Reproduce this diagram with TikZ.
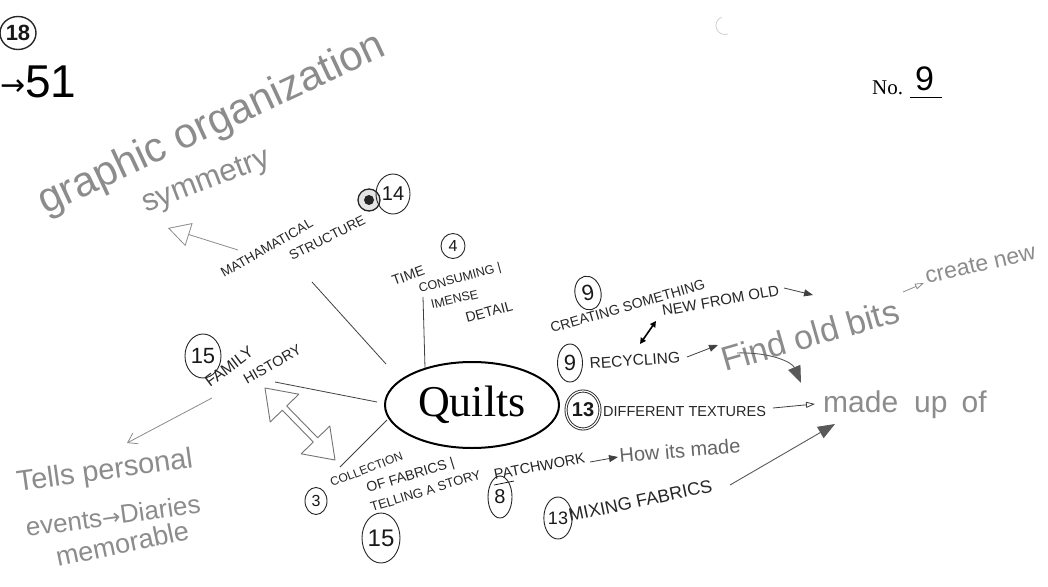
\documentclass[tikz,border=0pt]{standalone}
\usepackage{fontspec}
\setmainfont{Liberation Serif}
\newfontfamily\capsf{Liberation Sans}
\newfontfamily\hand{Liberation Sans}
\newfontfamily\sym{DejaVu Sans}
\usetikzlibrary{arrows.meta,shapes.geometric}
\begin{document}
\begin{tikzpicture}[x=1pt,y=-1pt,
  capf/.style={font=\capsf\fontsize{#1}{#1}\selectfont, inner sep=0pt, anchor=base west, text=black!85},
  handf/.style={font=\hand\fontsize{#1}{#1}\selectfont, inner sep=0pt, anchor=base west, text=black!45},
  numc/.style={draw=black!85, ellipse, line width=0.9pt, inner sep=0pt, text=black!90, font=\capsf\fontsize{#1}{#1}\selectfont},
  link/.style={draw=black!75, line width=0.8pt},
  glink/.style={draw=black!45, line width=0.8pt},
  tipfill/.style={-{Triangle[length=9pt,width=7pt]}},
  tipopen/.style={-{Triangle[open,length=9pt,width=6pt]}},
  bigfill/.style={-{Triangle[length=17pt,width=13pt]}}
]
\useasboundingbox (0,0) rectangle (1048,586);
\fill[white] (0,0) rectangle (1048,586);

% top left
\node[numc=22, minimum width=36pt, minimum height=33pt, line width=1.4pt, font=\capsf\bfseries\fontsize{22}{22}\selectfont] (n18) at (18,33) {18};
\node[font=\hand\fontsize{46}{46}\selectfont, anchor=base west, inner sep=0pt] (n51) at (0,97) {{\sym\fontsize{30}{30}\selectfont\raisebox{2pt}{→}}51};

% gray notes top
\node[handf=42, rotate=25] (graph) at (45,215) {graphic organization};
\node[handf=31, rotate=21] (symm) at (146,213) {symmetry};

% No. 9
\node[font=\fontsize{21}{21}\selectfont, anchor=base west, inner sep=0pt] (no) at (872,94) {No.};
\node[font=\hand\fontsize{34}{34}\selectfont, anchor=base west, inner sep=0pt] (nine) at (915,90) {9};
\coordinate (ulA) at (910,97); \coordinate (ulB) at (942,97);
\draw[line width=0.8pt] (ulA) -- (ulB);
\draw[black!20, line width=0.7pt] (728,34) arc (70:250:9);

% Quilts
\node[draw, ellipse, line width=2pt, minimum width=174pt, minimum height=86pt, inner sep=0pt, font=\fontsize{44}{44}\selectfont] (Q) at (472,405) {Quilts};

% mathematical branch
\node[capf=13.5, rotate=30] (mat) at (224,278) {MATHAMATICAL};
\node[capf=13.5, rotate=27] (struc) at (292,261) {STRUCTURE};
\node[draw=black!85, circle, minimum size=22pt, line width=1.3pt, fill=black!10] (scrib) at (369,200) {};
\fill[black!85] (scrib.center) circle (5);
\node[numc=20, minimum width=34pt, minimum height=40pt] (c14) at (393,194) {14};
\coordinate (matL) at (238,250); \coordinate (symArr) at (168,228);
\draw[glink, -{Triangle[open,length=22pt,width=24pt]}] (matL) -- (symArr);
\coordinate (matLow) at (312,282); \coordinate (qMat) at (386,364);
\draw[link] (matLow) -- (qMat);

% time branch
\node[numc=16, minimum width=24pt, minimum height=25pt] (c4) at (453,246) {4};
\node[capf=14, rotate=20] (time) at (394,286) {TIME};
\node[capf=12.5, rotate=15] (cons) at (420,293) {CONSUMING |};
\node[capf=12.5, rotate=13] (imen) at (432,309) {IMENSE};
\node[capf=14, rotate=15] (det) at (467,323) {DETAIL};
\coordinate (timeLow) at (423,297); \coordinate (qTime) at (425,368);
\draw[link] (timeLow) -- (qTime);

% creating
\node[numc=22, minimum width=26pt, minimum height=34pt, rotate=12] (c9a) at (588,293) {9};
\node[capf=14, rotate=16] (creat) at (552,333) {CREATING SOMETHING};
\node[capf=15, rotate=10] (newold) at (663,316) {NEW FROM OLD};
\coordinate (oldR) at (784,288); \coordinate (oldTip) at (813,295);
\draw[link, tipfill] (oldR) -- (oldTip);
\coordinate (dA) at (640,344); \coordinate (dB) at (656,321);
\draw[black, line width=1.6pt, {Triangle[length=6pt,width=6pt]}-{Triangle[length=6pt,width=6pt]}] (dA) -- (dB);

% recycling
\node[numc=22, minimum width=25pt, minimum height=38pt] (c9b) at (570,363) {9};
\node[capf=15.5, rotate=4] (recy) at (590,369) {RECYCLING};
\coordinate (recR) at (687,357); \coordinate (findL) at (718,345);
\draw[link, tipfill] (recR) -- (findL);
\node[handf=34, rotate=16] (find) at (725,372) {Find old bits};
\coordinate (bitsR) at (903,292); \coordinate (creL) at (924,283);
\draw[glink, tipopen] (bitsR) -- (creL);
\node[handf=23, rotate=13] (create) at (927,284) {create new};
\coordinate (findB) at (737,353); \coordinate (madeT) at (801,383);
\draw[draw=black!65, line width=0.9pt, bigfill] (findB) .. controls (770,352) and (792,362) .. (madeT);

% different textures
\node[numc=20, minimum width=34pt, minimum height=38pt, double, double distance=1.2pt, line width=0.9pt, font=\capsf\bfseries\fontsize{20}{20}\selectfont] (c13a) at (583,410) {13};
\node[capf=14.5] (diff) at (603,416) {DIFFERENT TEXTURES};
\coordinate (diffR) at (773,408); \coordinate (madeL) at (815,404);
\draw[link, tipopen] (diffR) -- (madeL);
\node[handf=30] (made) at (823,412) {made\hspace{16pt}up\hspace{14pt}of};

% patchwork
\node[capf=14.5, rotate=11] (patch) at (495,480) {PATCHWORK};
\coordinate (paA) at (494,485); \coordinate (paB) at (514,481);
\draw[line width=0.7pt] (paA) -- (paB);
\coordinate (patR) at (590,462); \coordinate (howL) at (618,457);
\draw[link, tipfill] (patR) -- (howL);
\node[handf=20, rotate=5, text=black!60] (how) at (620,463) {How its made};
\node[numc=20, minimum width=24pt, minimum height=42pt] (c8) at (500,497) {8};

% mixing
\node[numc=18, minimum width=22pt, minimum height=42pt] (c13b) at (558,518) {13};
\node[capf=18, rotate=12] (mix) at (570,522) {MIXING FABRICS};
\coordinate (mixR) at (730,485); \coordinate (madeB) at (835,424);
\draw[draw=black!65, line width=0.9pt, bigfill] (mixR) -- (madeB);

% family history
\node[numc=22, minimum width=36pt, minimum height=44pt] (c15a) at (203,356) {15};
\node[capf=16, rotate=37] (fam) at (210,388) {FAMILY};
\node[capf=14.5, rotate=30] (hist) at (247,385) {HISTORY};
\coordinate (histR) at (275,382); \coordinate (qFam) at (377,402);
\draw[link] (histR) -- (qFam);
\draw[draw=black!55, line width=0.9pt, line join=round]
  (265,388) -- (298.8,394.2) -- (286.7,406.0) -- (317.7,437.8) -- (329.8,426.0)
  -- (335,460) -- (301.2,453.8) -- (313.3,442.0) -- (282.3,410.2) -- (270.2,422.0) -- cycle;
\coordinate (famL) at (212,398); \coordinate (tellsT) at (127,443);
\draw[glink, -{Straight Barb[length=9pt,width=12pt]}] (famL) -- (tellsT);
\node[handf=29, rotate=8] (tells) at (18,492) {Tells personal};
\node[handf=26, rotate=8] (events) at (27,537) {events{\sym\fontsize{22}{22}\selectfont →}Diaries};
\node[handf=27, rotate=12] (memo) at (58,567) {memorable};

% collection
\coordinate (qCol) at (387,420); \coordinate (colT) at (340,467);
\draw[link] (qCol) -- (colT);
\node[capf=12, rotate=21] (coll) at (332,487) {COLLECTION};
\node[capf=14, rotate=17] (fabr) at (368,493) {OF FABRICS |};
\node[capf=13, rotate=17] (tell) at (372,512) {TELLING A STORY};
\node[numc=16, minimum width=22pt, minimum height=27pt] (c3) at (316,501) {3};
\node[numc=24, minimum width=38pt, minimum height=50pt] (c15b) at (381,538) {15};
\end{tikzpicture}
\end{document}
